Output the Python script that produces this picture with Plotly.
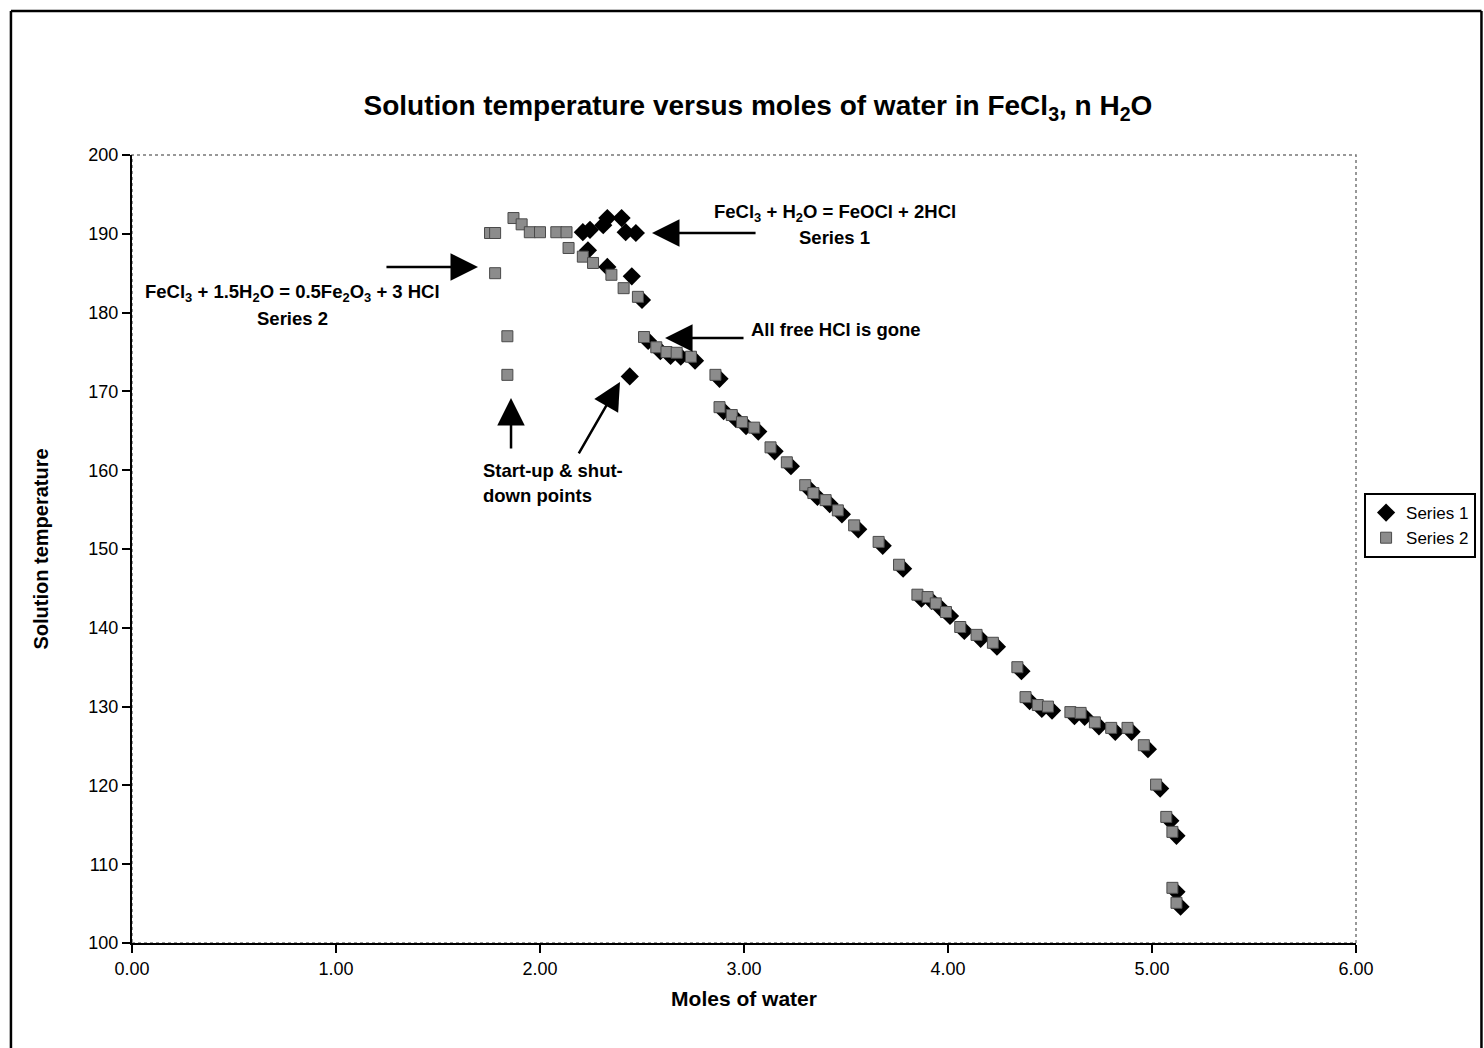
import plotly.graph_objects as go

# ---------------- data ----------------
series1_x = [2.21, 2.245, 2.31, 2.33, 2.40, 2.42, 2.47,
             2.235, 2.33, 2.45, 2.50, 2.44,
             2.53, 2.59, 2.64, 2.69, 2.76, 2.88, 2.90, 2.96, 3.01, 3.07,
             3.15, 3.23, 3.32, 3.36, 3.42, 3.48, 3.56, 3.68, 3.78, 3.87,
             3.92, 3.96, 4.01, 4.08, 4.16, 4.24, 4.36, 4.40, 4.46, 4.51,
             4.62, 4.67, 4.74, 4.82, 4.90, 4.98, 5.04, 5.09, 5.12, 5.12, 5.14]
series1_y = [190.2, 190.5, 191.1, 192.0, 192.0, 190.2, 190.1,
             187.9, 185.8, 184.6, 181.6, 171.9,
             176.4, 175.1, 174.5, 174.4, 173.9, 171.6, 167.5, 166.5, 165.6, 164.9,
             162.4, 160.5, 157.6, 156.6, 155.7, 154.4, 152.5, 150.4, 147.5, 143.7,
             143.4, 142.6, 141.5, 139.6, 138.6, 137.6, 134.5, 130.7, 129.7, 129.5,
             128.8, 128.7, 127.5, 126.8, 126.8, 124.6, 119.6, 115.5, 113.6, 106.5, 104.6]

series2_x = [1.755, 1.78, 1.78, 1.84, 1.84, 1.87, 1.91, 1.95, 2.00, 2.08, 2.13,
             2.14, 2.21, 2.26, 2.35, 2.41, 2.48,
             2.51, 2.57, 2.62, 2.67, 2.74, 2.86, 2.88, 2.94, 2.99, 3.05,
             3.13, 3.21, 3.30, 3.34, 3.40, 3.46, 3.54, 3.66, 3.76, 3.85,
             3.90, 3.94, 3.99, 4.06, 4.14, 4.22, 4.34, 4.38, 4.44, 4.49,
             4.60, 4.65, 4.72, 4.80, 4.88, 4.96, 5.02, 5.07, 5.10, 5.10, 5.12]
series2_y = [190.1, 190.1, 185.0, 177.0, 172.1, 192.0, 191.2, 190.2, 190.2, 190.2, 190.2,
             188.2, 187.1, 186.3, 184.8, 183.1, 182.0,
             176.9, 175.6, 175.0, 174.9, 174.4, 172.1, 168.0, 167.0, 166.1, 165.4,
             162.9, 161.0, 158.1, 157.1, 156.2, 154.9, 153.0, 150.9, 148.0, 144.2,
             143.9, 143.1, 142.0, 140.1, 139.1, 138.1, 135.0, 131.2, 130.2, 130.0,
             129.3, 129.2, 128.0, 127.3, 127.3, 125.1, 120.1, 116.0, 114.1, 107.0, 105.1]

x_ticks = [0, 1, 2, 3, 4, 5, 6]
y_ticks = [100, 110, 120, 130, 140, 150, 160, 170, 180, 190, 200]

title_text = "Solution temperature versus moles of water in FeCl<sub>3</sub>, n H<sub>2</sub>O"
x_title = "Moles of water"
y_title = "Solution temperature"

FONT = "Arial, 'Liberation Sans', sans-serif"

fig = go.Figure()
fig.add_trace(go.Scatter(
    x=series1_x, y=series1_y, mode="markers", name="Series 1",
    marker=dict(symbol="diamond", size=14, color="black", line=dict(width=0)),
))
fig.add_trace(go.Scatter(
    x=series2_x, y=series2_y, mode="markers", name="Series 2",
    marker=dict(symbol="square", size=11, color="#8c8c8c",
                line=dict(width=1, color="#4a4a4a")),
))

# text annotations (label, x, y, anchor)
labels = [
    ("FeCl<sub>3</sub> + H<sub>2</sub>O = FeOCl + 2HCl", 3.446, 192.64, "center"),
    ("Series 1", 3.446, 189.47, "center"),
    ("FeCl<sub>3</sub> + 1.5H<sub>2</sub>O = 0.5Fe<sub>2</sub>O<sub>3</sub> + 3 HCl", 0.789, 182.49, "center"),
    ("Series 2", 0.789, 179.3, "center"),
    ("All free HCl is gone", 3.451, 177.8, "center"),
    ("Start-up &amp; shut-", 1.711, 159.9, "left"),
    ("down points", 1.711, 156.85, "left"),
]
for txt, x, y, anc in labels:
    fig.add_annotation(x=x, y=y, text=txt, showarrow=False, xanchor=anc, yanchor="middle",
                       font=dict(family=FONT, size=18.5, color="black", weight="bold"))

# arrows (tip x, tip y, tail x, tail y)
arrows = [
    (2.549, 190.1, 3.064, 190.1),
    (1.696, 185.79, 1.240, 185.79),
    (2.613, 176.78, 3.005, 176.78),
    (1.858, 169.16, 1.858, 162.56),
    (2.392, 171.19, 2.186, 161.93),
]
for tx, ty, sx, sy in arrows:
    fig.add_annotation(x=tx, y=ty, ax=sx, ay=sy, axref="x", ayref="y", xref="x", yref="y",
                       text="", showarrow=True, arrowhead=2, arrowsize=2.2, arrowwidth=2.5,
                       arrowcolor="black")

# plot-area dotted border
fig.add_shape(type="rect", xref="paper", yref="paper", x0=0, y0=0, x1=1, y1=1,
              line=dict(color="#777777", width=1.5, dash="dot"), layer="below")
# outer frame
fl, fr, ft, fb = -0.0989, 1.1025, 1.1827, -0.2
for (x0, y0, x1, y1) in [(fl, fb, fl, ft), (fl, ft, fr, ft), (fr, ft, fr, fb)]:
    fig.add_shape(type="line", xref="paper", yref="paper", x0=x0, y0=y0, x1=x1, y1=y1,
                  line=dict(color="black", width=2.5))

fig.update_layout(
    width=1484, height=1048,
    margin=dict(l=132, r=128, t=155, b=105, autoexpand=False),
    paper_bgcolor="white", plot_bgcolor="white",
    font=dict(family=FONT, color="black"),
    title=dict(text=title_text, x=0.5114, xref="paper", xanchor="center",
               y=1 - 105 / 1048, yanchor="middle",
               font=dict(family=FONT, size=28, color="black", weight="bold")),
    showlegend=True,
    legend=dict(x=1.0066, y=0.571, xanchor="left", yanchor="top",
                bordercolor="black", borderwidth=2, bgcolor="white",
                font=dict(family=FONT, size=17, color="black"),
                itemwidth=30, tracegroupgap=2),
    xaxis=dict(range=[0, 6], tickvals=x_ticks, tickformat=".2f",
               showgrid=False, zeroline=False,
               showline=True, linecolor="black", linewidth=2,
               ticks="outside", ticklen=8, tickwidth=2, tickcolor="black",
               tickfont=dict(family=FONT, size=18, color="black"),
               title=dict(text=x_title, standoff=14,
                          font=dict(family=FONT, size=21, color="black", weight="bold"))),
    yaxis=dict(range=[100, 200], tickvals=y_ticks,
               showgrid=False, zeroline=False,
               showline=True, linecolor="black", linewidth=2,
               ticks="outside", ticklen=8, tickwidth=2, tickcolor="black",
               tickfont=dict(family=FONT, size=18, color="black"),
               title=dict(text=y_title, standoff=34,
                          font=dict(family=FONT, size=20, color="black", weight="bold"))),
)

fig.write_html("out.html")
